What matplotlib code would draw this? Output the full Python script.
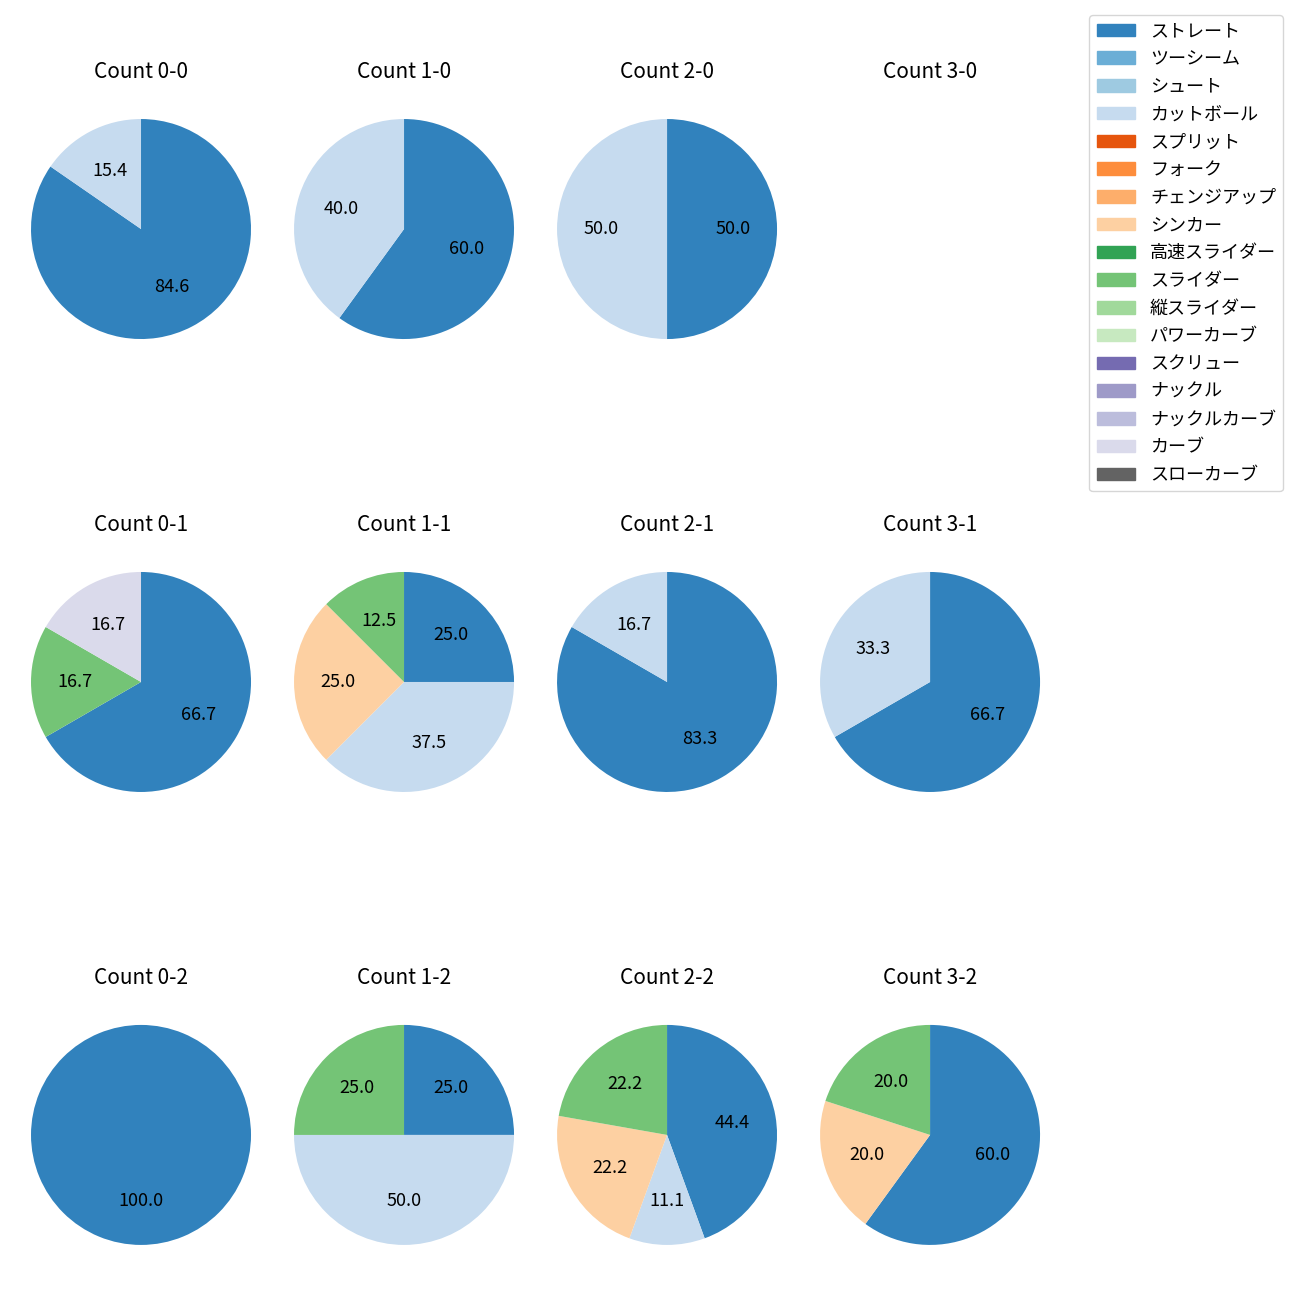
import matplotlib
matplotlib.use("Agg")
import matplotlib.pyplot as plt
from matplotlib.patches import Patch

plt.rcParams['font.family'] = ['Noto Sans CJK JP', 'DejaVu Sans']

pitch_types = ['ストレート', 'ツーシーム', 'シュート', 'カットボール', 'スプリット', 'フォーク',
               'チェンジアップ', 'シンカー', '高速スライダー', 'スライダー', '縦スライダー',
               'パワーカーブ', 'スクリュー', 'ナックル', 'ナックルカーブ', 'カーブ', 'スローカーブ']
colors = list(plt.get_cmap('tab20c').colors[:17])

# ボール-ストライク
count_labels = ['0-0', '1-0', '2-0', '3-0',
                '0-1', '1-1', '2-1', '3-1',
                '0-2', '1-2', '2-2', '3-2']
straight = [11, 3, 1, 0, 4, 2, 5, 2, 1, 1, 4, 3]
cutball = [2, 2, 1, 0, 0, 3, 1, 1, 0, 2, 1, 0]
sinker = [0, 0, 0, 0, 0, 2, 0, 0, 0, 0, 2, 1]
slider = [0, 0, 0, 0, 1, 1, 0, 0, 0, 1, 2, 1]
curve = [0, 0, 0, 0, 1, 0, 0, 0, 0, 0, 0, 0]

series = {'ストレート': straight, 'カットボール': cutball, 'シンカー': sinker,
          'スライダー': slider, 'カーブ': curve}

fig, axes = plt.subplots(3, 4, figsize=(13, 13))
fig.subplots_adjust(left=0.0027, right=0.8212, top=0.9296, bottom=0.0212,
                    wspace=-0.0436, hspace=0.647)

for i, ax in enumerate(axes.flat):
    vals = []
    cols = []
    for k, name in enumerate(pitch_types):
        if name in series and series[name][i] > 0:
            vals.append(series[name][i])
            cols.append(colors[k])
    if len(vals) == 0:
        ax.axis('off')
    else:
        ax.pie(vals, colors=cols, autopct='%1.1f', startangle=90, counterclock=False,
               textprops={'fontsize': 13})
    ax.set_title('Count ' + count_labels[i], fontsize=15, pad=10)

handles = [Patch(color=c) for c in colors]
fig.legend(handles, pitch_types, loc='upper right', bbox_to_anchor=(0.987, 0.9885),
           borderaxespad=0, fontsize=13, labelspacing=0.54, handlelength=2.15)

plt.savefig('out.png', dpi=100)
